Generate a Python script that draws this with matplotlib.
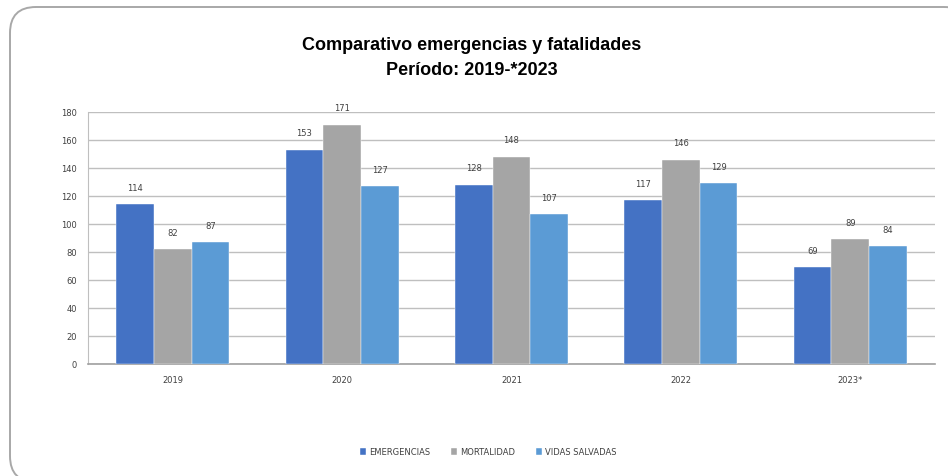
import matplotlib.pyplot as plt
import numpy as np
from matplotlib.patches import FancyBboxPatch

years = ['2019', '2020', '2021', '2022', '2023*']
emergencias = [114, 153, 128, 117, 69]
mortalidad = [82, 171, 148, 146, 89]
vidas_salvadas = [87, 127, 107, 129, 84]
series_names = ['EMERGENCIAS', 'MORTALIDAD', 'VIDAS SALVADAS']
colors = ['#4472C4', '#A5A5A5', '#5B9BD5']

fig = plt.figure(figsize=(9.48, 4.77), dpi=100)

# rounded frame around the chart, drawn in pixel units on a background axes
bg = fig.add_axes([0, 0, 1, 1], zorder=-1)
bg.set_xlim(0, 948)
bg.set_ylim(477, 0)
bg.axis('off')
bg.add_patch(FancyBboxPatch((10, 8), 960, 475, boxstyle='round,pad=0,rounding_size=26',
                            facecolor='white', edgecolor='#a8a8a8', linewidth=1.4))

ax = fig.add_axes([88/948, 1 - 365/477, (935-88)/948, (365-113)/477])
ax.patch.set_alpha(0)

x = np.arange(len(years))
w = 0.222
for i, (vals, c) in enumerate(zip([emergencias, mortalidad, vidas_salvadas], colors)):
    pos = x + (i - 1) * w
    ax.bar(pos, vals, width=w, color=c, label=series_names[i], zorder=3,
           edgecolor='white', linewidth=0.3)
    for p, v in zip(pos, vals):
        ax.annotate(str(v), (p, v), xytext=(0, 9), textcoords='offset points',
                    ha='center', va='bottom', fontsize=6, color='#404040')

ax.set_xlim(-0.5, len(years) - 0.5)
ax.set_ylim(0, 180)
ax.set_yticks(range(0, 181, 20))
ax.set_xticks(x)
ax.set_xticklabels(years)
ax.yaxis.grid(True, color='#bfbfbf', linewidth=1.0, zorder=0)
ax.tick_params(axis='both', labelsize=6, colors='#404040', length=0, pad=8)
for s in ['top', 'right']:
    ax.spines[s].set_visible(False)
ax.spines['left'].set_color('#bfbfbf')
ax.spines['bottom'].set_color('#a0a0a0')
ax.spines['bottom'].set_linewidth(1.2)

fig.text(472/948, 1 - 58/477, 'Comparativo emergencias y fatalidades\nPeríodo: 2019-*2023',
         ha='center', va='center', fontsize=13, fontweight='bold', linespacing=1.55,
         family=['Liberation Sans', 'DejaVu Sans'])

fig.legend(loc='center', bbox_to_anchor=(488/948, 1 - 453/477), ncol=3, frameon=False,
           fontsize=6, handlelength=0.8, handleheight=0.8, handletextpad=0.3,
           columnspacing=2.5, labelcolor='#404040')

fig.savefig('out.png', dpi=100)
